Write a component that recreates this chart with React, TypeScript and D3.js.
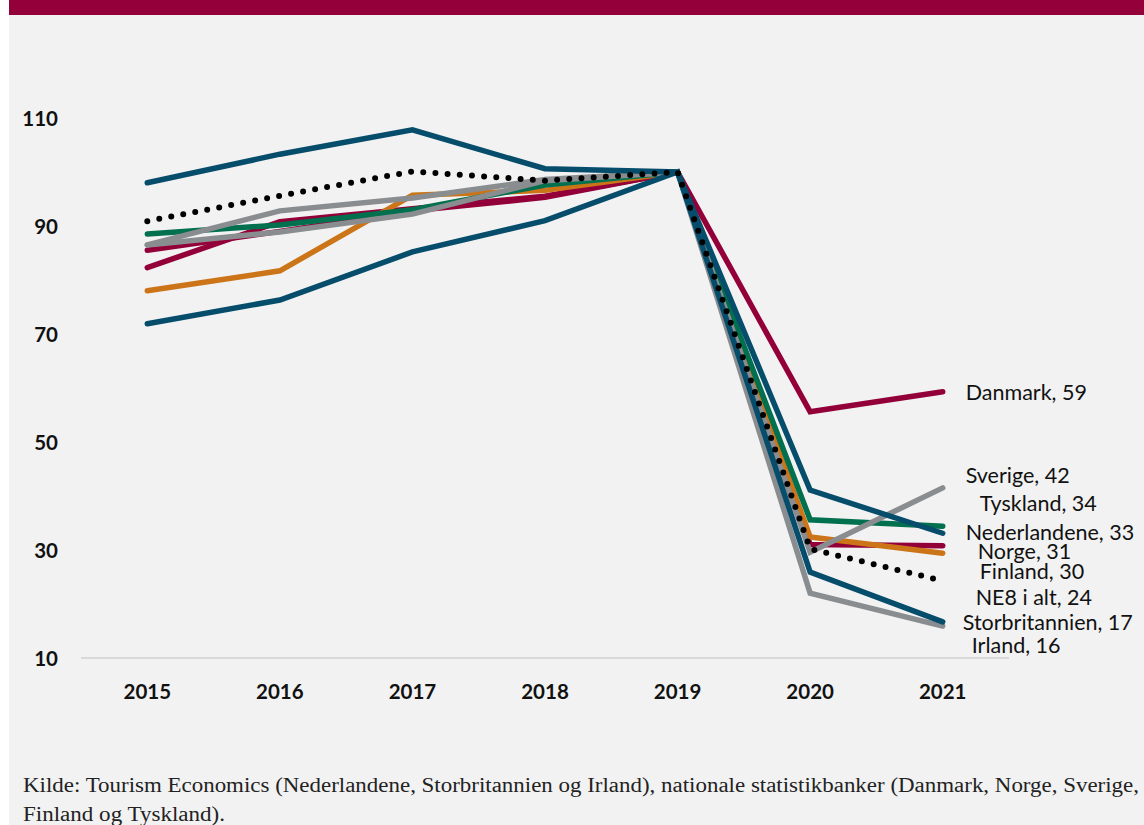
import React from "react";
import * as d3 from "d3";

const years = ["2015", "2016", "2017", "2018", "2019", "2020", "2021"];
const yTicks = [10, 30, 50, 70, 90, 110];

const danmark = [85.5, 89.0, 92.8, 95.3, 100, 55.6, 59.3];
const norge = [82.3, 90.8, 93.2, 95.5, 100, 31.0, 30.8];
const sverige = [86.5, 92.8, 95.2, 98.6, 100, 29.6, 41.5];
const irland = [86.5, 88.9, 92.2, 98.4, 100, 22.0, 15.9];
const tyskland = [88.5, 90.2, 93.0, 97.6, 100, 35.6, 34.4];
const nederlandene = [98.0, 103.3, 107.8, 100.6, 100, 41.1, 33.1];
const storbritannien = [71.9, 76.3, 85.2, 91.0, 100, 25.9, 16.7];
const finland = [78.0, 81.7, 95.7, 96.6, 100, 32.4, 29.4];
const ne8 = [90.9, 95.6, 100.1, 98.4, 100, 30.2, 24.3];

const labels = [
  { text: "Danmark, 59", dx: 23, y: 59.3 },
  { text: "Sverige, 42", dx: 23, y: 43.9 },
  { text: "Tyskland, 34", dx: 37, y: 38.7 },
  { text: "Nederlandene, 33", dx: 23, y: 33.3 },
  { text: "Norge, 31", dx: 35, y: 29.9 },
  { text: "Finland, 30", dx: 37, y: 26.1 },
  { text: "NE8 i alt, 24", dx: 33, y: 21.3 },
  { text: "Storbritannien, 17", dx: 20, y: 16.7 },
  { text: "Irland, 16", dx: 29, y: 12.4 },
];

const MAROON = "#930039";
const BLUE = "#064d6b";
const GREEN = "#00704e";
const ORANGE = "#cc7418";
const GREY = "#8a8d90";

const series = [
  { name: "Danmark", values: danmark, color: MAROON, dotted: false },
  { name: "Norge", values: norge, color: MAROON, dotted: false },
  { name: "Finland", values: finland, color: ORANGE, dotted: false },
  { name: "Tyskland", values: tyskland, color: GREEN, dotted: false },
  { name: "Irland", values: irland, color: GREY, dotted: false },
  { name: "Sverige", values: sverige, color: GREY, dotted: false },
  { name: "Nederlandene", values: nederlandene, color: BLUE, dotted: false },
  { name: "Storbritannien", values: storbritannien, color: BLUE, dotted: false },
  { name: "NE8 i alt", values: ne8, color: "#000000", dotted: true },
];

export default function App() {
  const W = 1144;
  const H = 825;
  const x = d3.scaleBand().domain(years).range([81, 1009]).padding(0);
  const cx = (yr: string) => (x(yr) as number) + x.bandwidth() / 2;
  const y = d3.scaleLinear().domain([10, 110]).range([658, 118]);
  const line = d3
    .line<number>()
    .x((_, i) => cx(years[i]))
    .y((d) => y(d));
  const lastX = cx(years[years.length - 1]);
  const font = "Lato, 'Open Sans', sans-serif";

  return (
    <svg
      width={W}
      height={H}
      style={{ position: "absolute", left: 0, top: 0, display: "block" }}
    >
      <rect x={0} y={0} width={W} height={H} fill="#ffffff" />
      <rect x={9} y={0} width={W - 9} height={H} fill="#f2f2f2" />
      <rect x={9} y={0} width={W - 9} height={15} fill="#93003a" />

      <line x1={81} x2={1009} y1={y(10)} y2={y(10)} stroke="#d9d9d9" strokeWidth={2} />

      {yTicks.map((t) => (
        <text
          key={t}
          x={58}
          y={y(t)}
          textAnchor="end"
          dominantBaseline="central"
          fontFamily={font}
          fontWeight={700}
          fontSize={20.5}
          fill="#111"
        >
          {t}
        </text>
      ))}

      {years.map((yr) => (
        <text
          key={yr}
          x={cx(yr)}
          y={691}
          textAnchor="middle"
          dominantBaseline="central"
          fontFamily={font}
          fontWeight={700}
          fontSize={20.5}
          fill="#111"
        >
          {yr}
        </text>
      ))}

      {series.map((s) => (
        <path
          key={s.name}
          d={line(s.values) || ""}
          fill="none"
          stroke={s.color}
          strokeWidth={s.dotted ? 6 : 5.5}
          strokeDasharray={s.dotted ? "0 12.2" : undefined}
          strokeLinecap="round"
          strokeLinejoin="miter"
        />
      ))}

      {labels.map((l) => (
        <text
          key={l.text}
          x={lastX + l.dx}
          y={y(l.y)}
          dominantBaseline="central"
          fontFamily={font}
          fontSize={21.5}
          fill="#111"
        >
          {l.text}
        </text>
      ))}

      <text
        x={23}
        y={792}
        fontFamily="'Liberation Serif', 'Times New Roman', serif"
        fontSize={20}
        fill="#222"
        textLength={1116}
        lengthAdjust="spacingAndGlyphs"
      >
        Kilde: Tourism Economics (Nederlandene, Storbritannien og Irland), nationale statistikbanker (Danmark, Norge, Sverige,
      </text>
      <text
        x={23}
        y={821}
        fontFamily="'Liberation Serif', 'Times New Roman', serif"
        fontSize={20}
        fill="#222"
        textLength={202}
        lengthAdjust="spacingAndGlyphs"
      >
        Finland og Tyskland).
      </text>
    </svg>
  );
}
